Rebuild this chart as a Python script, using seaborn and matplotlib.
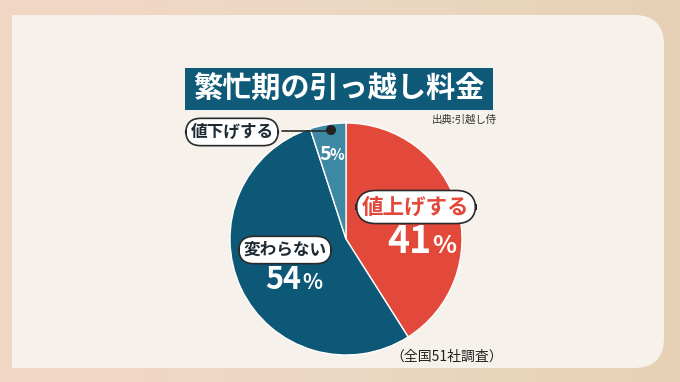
import numpy as np
import matplotlib
matplotlib.use("Agg")
import matplotlib.pyplot as plt
from matplotlib.patches import FancyBboxPatch, Rectangle, Circle
from matplotlib.colors import LinearSegmentedColormap
import seaborn as sns

sns.set_theme(style="white")
plt.rcParams['font.family'] = ['Noto Sans CJK JP', 'DejaVu Sans']

# ---- data ----
categories = ["値上げする", "変わらない", "値下げする"]
values = [41, 54, 5]
pct_labels = ["41", "54", "5"]
title = "繁忙期の引っ越し料金"
source = "出典:引越し侍"
note = "（全国51社調査）"

colors = ["#e2493a", "#0e5877", "#3f88a3"]

W, H = 680, 382
fig = plt.figure(figsize=(W / 100, H / 100), dpi=100)
ax = fig.add_axes([0, 0, 1, 1])

def Y(y):
    return H - y

# background gradient
grad = np.linspace(0, 1, 256).reshape(1, -1)
cmap = LinearSegmentedColormap.from_list("bg", ["#f3d6c5", "#ecd8c2", "#e6d1b6"])
ax.imshow(grad, extent=[0, W, 0, H], aspect='auto', cmap=cmap, zorder=0)

# panel
panel_col = "#f6f1ea"
ax.add_patch(FancyBboxPatch((12 + 30, Y(368) + 30), 664 - 12 - 60, 353 - 60,
                            boxstyle="round,pad=30", fc=panel_col, ec="none", zorder=1))
ax.add_patch(Rectangle((12, Y(368)), 60, 353, fc=panel_col, ec="none", zorder=1))

# pie
cx, cy, r = 346, Y(239), 116
wedges, _ = ax.pie(values, colors=colors, startangle=90, counterclock=False,
                   center=(cx, cy), radius=r, frame=True,
                   wedgeprops=dict(edgecolor="white", linewidth=1.0))
for w in wedges:
    w.set_zorder(2)

ax.set_xlim(0, W)
ax.set_ylim(0, H)
ax.set_axis_off()

# title box
ax.add_patch(Rectangle((185, Y(110)), 308, 42, fc="#0e5a78", ec="none", zorder=3))
ax.text(339, Y(89), title, color="white", fontsize=21, fontweight="bold",
        ha="center", va="center", zorder=4)
ax.text(497, Y(120), source, color="#333333", fontsize=7.5, ha="right", va="center", zorder=4)

# label boxes
def label(x, y, s, fs, color):
    ax.text(x, Y(y), s, fontsize=fs, fontweight="bold", color=color, ha="center", va="center",
            zorder=6,
            bbox=dict(boxstyle="round,pad=0.28,rounding_size=0.9", fc="white", ec="#2a2a2a", lw=1.2))

label(416, 207, categories[0], 15.5, "#e2493a")
label(285, 250, categories[1], 12, "#1e2a33")
label(232, 132, categories[2], 12, "#1e2a33")

# leader line and dot
ax.plot([282, 331], [Y(131), Y(131)], color="#2a2a2a", lw=1.2, zorder=5)
ax.add_patch(Circle((331, Y(130)), 5, fc="#222222", ec="none", zorder=6))

# percentages
def pct(x, y, num, fs, fsp, gap):
    ax.text(x, Y(y), num, fontsize=fs, fontweight="bold", color="white",
            ha="right", va="baseline", zorder=6)
    ax.text(x + gap, Y(y), "%", fontsize=fsp, fontweight="bold", color="white",
            ha="left", va="baseline", zorder=6)

pct(431, 253, pct_labels[0], 27, 18, 1)
pct(301, 289, pct_labels[1], 22, 15, 1)
pct(331, 160, pct_labels[2], 14, 11, -1)

ax.text(447, Y(357), note, fontsize=10, color="#222222", ha="center", va="center", zorder=4)

fig.savefig("out.png", dpi=100)
